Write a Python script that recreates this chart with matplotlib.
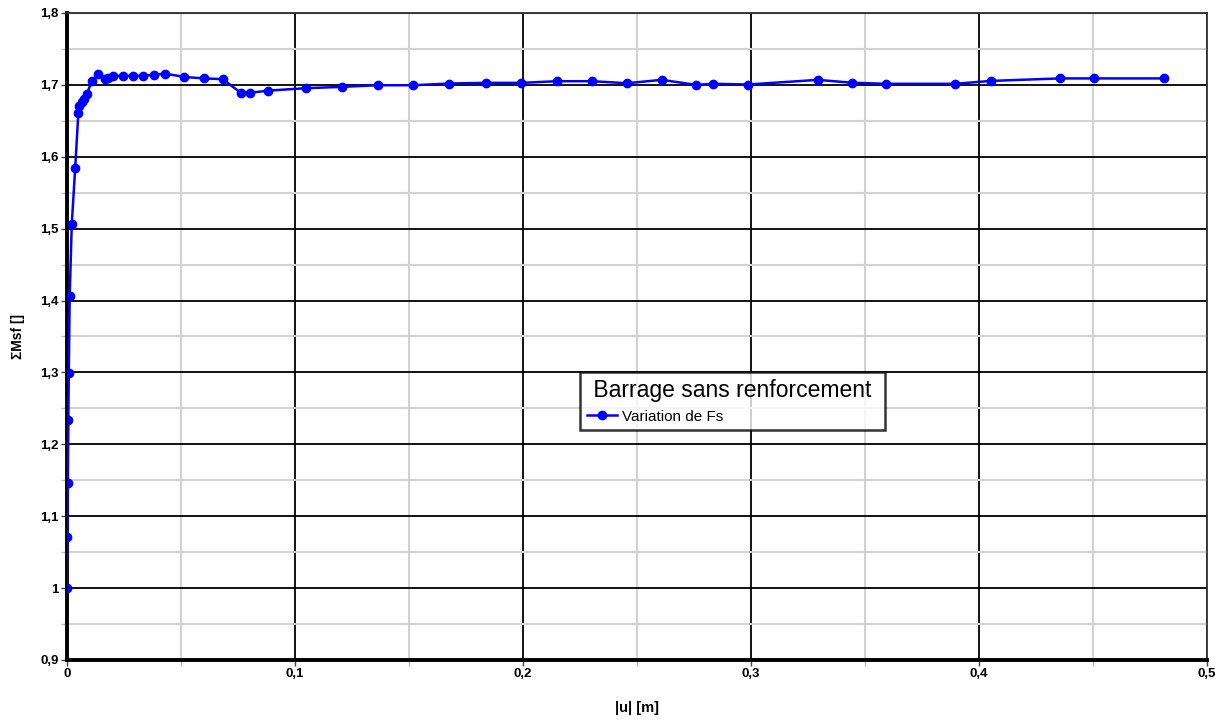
import matplotlib
matplotlib.use('Agg')
import matplotlib.pyplot as plt
from matplotlib.ticker import MultipleLocator, FuncFormatter

plt.rcParams['font.family'] = ['Liberation Sans', 'DejaVu Sans']

# Displacement |u| [m] and safety factor values
u_disp = [0, 0.0003, 0.0005, 0.0007, 0.0009, 0.0013, 0.0022, 0.0037,
          0.0051, 0.0055, 0.0066, 0.0077, 0.0088, 0.011, 0.0139, 0.0168,
          0.0183, 0.0204, 0.0248, 0.0292, 0.0336, 0.0383, 0.0431, 0.0516,
          0.0602, 0.0684, 0.0763, 0.0804, 0.0884, 0.1048, 0.1205, 0.1363,
          0.152, 0.1678, 0.1837, 0.1994, 0.2149, 0.2305, 0.2457, 0.2609,
          0.276, 0.2836, 0.2988, 0.3293, 0.3443, 0.3593, 0.3897, 0.4052,
          0.4355, 0.4507, 0.481]
msf = [1.0, 1.071, 1.146, 1.234, 1.299, 1.406, 1.506, 1.584,
       1.6615, 1.671, 1.6755, 1.680, 1.687, 1.7055, 1.7157, 1.708,
       1.710, 1.7125, 1.7125, 1.7125, 1.7125, 1.714, 1.7157, 1.711,
       1.709, 1.708, 1.689, 1.689, 1.692, 1.6954, 1.6972, 1.6995,
       1.6995, 1.7019, 1.7028, 1.7028, 1.7051, 1.7051, 1.7023, 1.707,
       1.700, 1.7015, 1.7005, 1.707, 1.703, 1.7015, 1.7015, 1.7055,
       1.709, 1.709, 1.709]

fig = plt.figure(figsize=(12.29, 7.22), dpi=100)
ax = fig.add_axes([0.0543, 0.0859, 0.9277, 0.8961])

ax.plot(u_disp, msf, color='#0000ff', lw=1.8, marker='o', markersize=6,
        label='Variation de Fs', zorder=3)

ax.set_xlim(0, 0.5)
ax.set_ylim(0.9, 1.8)
ax.xaxis.set_major_locator(MultipleLocator(0.1))
ax.xaxis.set_minor_locator(MultipleLocator(0.05))
ax.yaxis.set_major_locator(MultipleLocator(0.1))
ax.yaxis.set_minor_locator(MultipleLocator(0.05))

comma = FuncFormatter(lambda v, p: f"{round(v, 2):g}".replace('.', ','))
ax.xaxis.set_major_formatter(comma)
ax.yaxis.set_major_formatter(comma)

ax.grid(which='major', color='black', lw=1.3, zorder=1)
ax.grid(which='minor', color='#d2d2d2', lw=1.5, zorder=0)
ax.set_axisbelow(True)

ax.tick_params(which='major', length=4, width=1, color='#444444',
               labelsize=9.5, pad=2)
ax.tick_params(which='minor', length=4, width=1, color='#bbbbbb')
for lbl in ax.get_xticklabels() + ax.get_yticklabels():
    lbl.set_fontweight('bold')

ax.spines['left'].set_linewidth(2.8)
ax.spines['bottom'].set_linewidth(2.8)
ax.spines['top'].set_linewidth(1.3)
ax.spines['right'].set_linewidth(1.3)
ax.spines['top'].set_color('#333333')
ax.spines['right'].set_color('#333333')

ax.set_xlabel('|u| [m]', fontsize=10.5, fontweight='bold', labelpad=15)
ax.set_ylabel('ΣMsf []', fontsize=10, fontweight='bold', labelpad=11)

leg = ax.legend(loc='upper left', bbox_to_anchor=(0.4502, 0.4451),
                title=' Barrage sans renforcement ', title_fontsize=16.5,
                fontsize=11, frameon=True, fancybox=False, shadow=False,
                borderpad=0.45, handlelength=2.0, handletextpad=0.3,
                borderaxespad=0)
leg.get_frame().set_edgecolor('black')
leg.get_frame().set_linewidth(1.8)
leg._legend_box.align = 'left'

fig.savefig('out.png', dpi=100)
